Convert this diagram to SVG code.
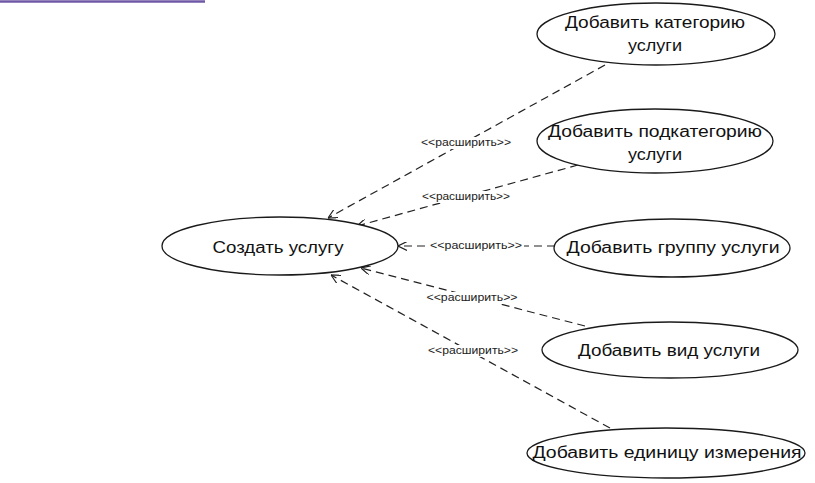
<svg xmlns="http://www.w3.org/2000/svg" width="815" height="483" viewBox="0 0 815 483">
<style>
.node ellipse{fill:#fff;stroke:#1a1a1a;stroke-width:1.3}
.node text{font-family:"Liberation Sans",Arial,sans-serif;font-size:16px;fill:#111;text-anchor:middle}
.conn line{stroke:#222;stroke-width:1.2;stroke-dasharray:8 5;fill:none}
.bg{fill:#fff}
.lbl{font-family:"Liberation Sans",Arial,sans-serif;font-size:10px;fill:#222;text-anchor:middle}
</style>
<defs>
<marker id="open" viewBox="0 0 10 10" refX="10" refY="5" markerWidth="9" markerHeight="9" markerUnits="userSpaceOnUse" orient="auto">
<path d="M0,0 L10,5 L0,10" fill="none" stroke="#222" stroke-width="1.3" stroke-dasharray="none"/>
</marker>
</defs>
<rect width="815" height="483" fill="#fff"/>
<line x1="0" y1="1.5" x2="205" y2="1.5" stroke="#6f58a6" stroke-width="2.5"/>
<g id="connectors" class="conn">
<line x1="605" y1="65" x2="328" y2="218" marker-end="url(#open)"/>
<line x1="578" y1="165" x2="357" y2="226" marker-end="url(#open)"/>
<line x1="555" y1="246" x2="398" y2="246" marker-end="url(#open)"/>
<line x1="585" y1="326" x2="361" y2="268" marker-end="url(#open)"/>
<line x1="610" y1="428" x2="331" y2="275" marker-end="url(#open)"/>
<rect class="bg" x="420" y="137" width="92" height="12"/>
<rect class="bg" x="421" y="191" width="90" height="12"/>
<rect class="bg" x="428" y="240" width="96" height="13"/>
<rect class="bg" x="426" y="292" width="92" height="12"/>
<rect class="bg" x="427" y="345" width="92" height="12"/>
<text class="lbl" x="466" y="146" textLength="90" lengthAdjust="spacingAndGlyphs">&lt;&lt;расширить&gt;&gt;</text>
<text class="lbl" x="466" y="200" textLength="88" lengthAdjust="spacingAndGlyphs">&lt;&lt;расширить&gt;&gt;</text>
<text class="lbl" x="476" y="249" textLength="92" lengthAdjust="spacingAndGlyphs">&lt;&lt;расширить&gt;&gt;</text>
<text class="lbl" x="472" y="301" textLength="91" lengthAdjust="spacingAndGlyphs">&lt;&lt;расширить&gt;&gt;</text>
<text class="lbl" x="473" y="354" textLength="90" lengthAdjust="spacingAndGlyphs">&lt;&lt;расширить&gt;&gt;</text>
</g>
<g id="n1" class="node">
<ellipse cx="656" cy="34" rx="119" ry="31"/>
<text x="655" y="28" textLength="180" lengthAdjust="spacingAndGlyphs">Добавить категорию</text>
<text x="655" y="51" textLength="54" lengthAdjust="spacingAndGlyphs">услуги</text>
</g>
<g id="n2" class="node">
<ellipse cx="655" cy="141" rx="118" ry="32"/>
<text x="655" y="137" textLength="214" lengthAdjust="spacingAndGlyphs">Добавить подкатегорию</text>
<text x="655" y="160" textLength="54" lengthAdjust="spacingAndGlyphs">услуги</text>
</g>
<g id="n0" class="node">
<ellipse cx="280" cy="246" rx="118" ry="29"/>
<text x="278" y="253" textLength="131" lengthAdjust="spacingAndGlyphs">Создать услугу</text>
</g>
<g id="n3" class="node">
<ellipse cx="672" cy="248" rx="118" ry="29"/>
<text x="673" y="253" textLength="213" lengthAdjust="spacingAndGlyphs">Добавить группу услуги</text>
</g>
<g id="n4" class="node">
<ellipse cx="670" cy="350" rx="128" ry="28"/>
<text x="669" y="356" textLength="182" lengthAdjust="spacingAndGlyphs">Добавить вид услуги</text>
</g>
<g id="n5" class="node">
<ellipse cx="666" cy="453" rx="139" ry="25"/>
<text x="667" y="458" textLength="269" lengthAdjust="spacingAndGlyphs">Добавить единицу измерения</text>
</g>
</svg>
